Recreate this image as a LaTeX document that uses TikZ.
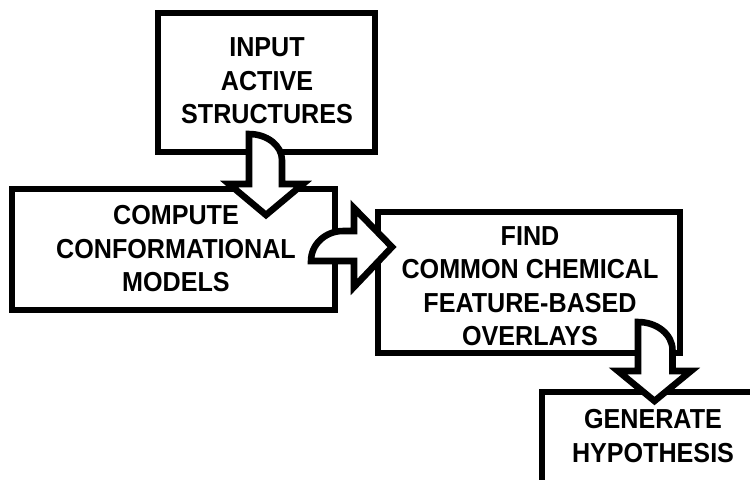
\documentclass[tikz,border=0pt]{standalone}
\usepackage{fontspec}
\setmainfont{Liberation Sans}[FakeStretch=0.915]
\begin{document}
\begin{tikzpicture}[x=0.75pt,y=-0.75pt,
  boxnode/.style={draw=black, line width=4.9pt, fill=white, inner sep=0pt},
  lbl/.style={font=\fontsize{20.6pt}{25.1pt}\selectfont\bfseries, align=center, inner sep=0pt, text=black},
  blockarrow/.style={draw=black, fill=white, line width=4.9pt, line join=miter, miter limit=10}]
\useasboundingbox (0,0) rectangle (750,479);
\clip (0,0) rectangle (750,479);
\fill[white] (0,0) rectangle (750,479);
% boxes
\node[boxnode, minimum width=217*0.75pt, minimum height=139*0.75pt] (b1) at (266.5,82.5) {};
\node[boxnode, minimum width=323*0.75pt, minimum height=121*0.75pt] (b2) at (173.5,249.5) {};
\node[boxnode, minimum width=302*0.75pt, minimum height=141*0.75pt] (b3) at (529,282.5) {};
\node[boxnode, minimum width=248*0.75pt, minimum height=128*0.75pt] (b4) at (666,456) {};
% texts
\node[lbl] (t1) at (267,81) {INPUT\\ACTIVE\\STRUCTURES};
\node[lbl] (t2) at (176,249) {COMPUTE\\CONFORMATIONAL\\MODELS};
\node[lbl] (t3) at (530,286) {FIND\\COMMON CHEMICAL\\FEATURE-BASED\\OVERLAYS};
\node[lbl] (t4) at (653,436) {GENERATE\\HYPOTHESIS};
% block arrows
\draw[blockarrow] (249,184) -- (249,134) .. controls (267,134) and (282,145.6) .. (282,160)
  -- (282,184) -- (303,184) -- (266,215) -- (229,184) -- cycle;
\draw[blockarrow] (311,261) .. controls (311,244.4) and (325.3,231) .. (343,231)
  -- (354,231) -- (354,208) -- (392,247) -- (354,287) -- (354,261) -- cycle;
\draw[blockarrow] (638,371) -- (638,322) .. controls (657,322) and (672.5,334.5) .. (672.5,350)
  -- (672.5,371) -- (691,371) -- (654.5,401) -- (618,371) -- cycle;
\end{tikzpicture}
\end{document}
